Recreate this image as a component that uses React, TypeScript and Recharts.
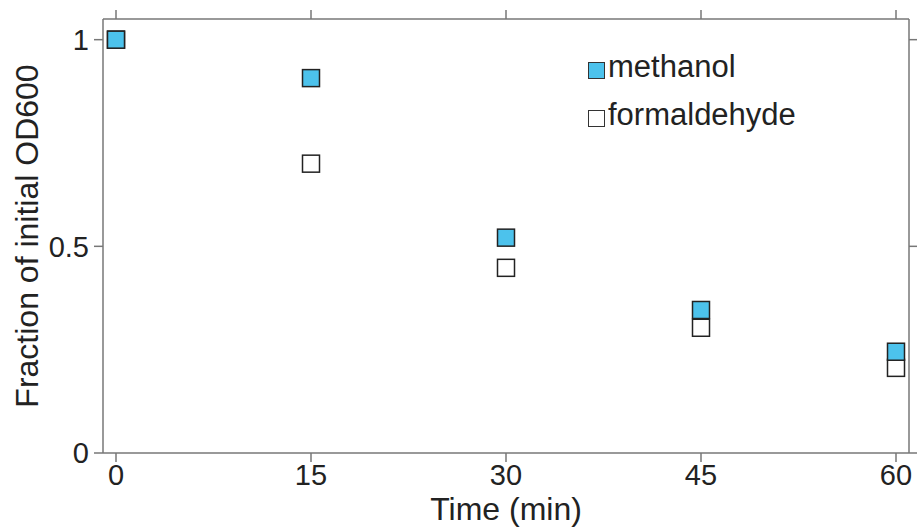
import { ScatterChart, Scatter, XAxis, YAxis } from "recharts"

const times = [0, 15, 30, 45, 60]
const methanol = [1.0, 0.907, 0.521, 0.346, 0.245]
const formaldehyde = [1.0, 0.7, 0.448, 0.303, 0.206]
const xTicks = [0, 15, 30, 45, 60]
const yTicks = [0, 0.5, 1]

const BLUE = "#4cc2ec"
const AXIS = "#777"
const FONT = "'Liberation Sans', Arial, sans-serif"

const methanolData = times.map((t, i) => ({ x: t, y: methanol[i] }))
const formaldehydeData = times.map((t, i) => ({ x: t, y: formaldehyde[i] }))

function Square(props: any) {
  const { cx, cy, fill } = props
  const s = 17
  return (
    <rect
      x={cx - s / 2}
      y={cy - s / 2}
      width={s}
      height={s}
      fill={fill}
      stroke="#222"
      strokeWidth={1.5}
    />
  )
}

// draws nothing: keeps the top/right axes alive and their tick labels empty
function Nothing() {
  return <g />
}

function LegendBox() {
  const items = [
    { label: "methanol", color: BLUE },
    { label: "formaldehyde", color: "#fff" },
  ]
  return (
    <div
      style={{
        position: "absolute",
        left: 588,
        top: 43,
        fontFamily: FONT,
        fontSize: 31,
        color: "#222",
      }}
    >
      {items.map((it) => (
        <div
          key={it.label}
          style={{ display: "flex", alignItems: "center", height: 48 }}
        >
          <span
            style={{
              display: "inline-block",
              width: 15,
              height: 15,
              background: it.color,
              border: "1px solid #333",
              marginRight: 3,
              marginTop: 6,
            }}
          />
          <span>{it.label}</span>
        </div>
      ))}
    </div>
  )
}

function YLabel(props: any) {
  const { viewBox } = props
  const cx = 27
  const cy = viewBox.y + viewBox.height / 2
  return (
    <text
      x={cx}
      y={cy}
      transform={`rotate(-90 ${cx} ${cy})`}
      textAnchor="middle"
      dominantBaseline="central"
      fontFamily={FONT}
      fontSize={32}
      fill="#222"
    >
      Fraction of initial OD600
    </text>
  )
}

export default function App() {
  const tickStyle = { fontSize: 29, fill: "#222", fontFamily: FONT }
  return (
    <div style={{ position: "absolute", left: 0, top: 0, background: "#fff" }}>
      <ScatterChart
        width={918}
        height={529}
        margin={{ top: 0, right: 0, bottom: 0, left: 0 }}
      >
        <XAxis
          xAxisId="b"
          type="number"
          dataKey="x"
          domain={[-1, 61]}
          ticks={xTicks}
          stroke={AXIS}
          strokeWidth={1.5}
          tickSize={9}
          tickMargin={2}
          tick={tickStyle}
          height={76}
          allowDataOverflow
          label={{
            value: "Time (min)",
            position: "insideBottom",
            offset: 9,
            style: { fontSize: 32, fill: "#222", fontFamily: FONT },
          }}
        />
        <XAxis
          xAxisId="t"
          orientation="top"
          type="number"
          dataKey="x"
          domain={[-1, 61]}
          ticks={xTicks}
          stroke={AXIS}
          strokeWidth={1.5}
          tickSize={9}
          tick={<Nothing />}
          height={19}
          allowDataOverflow
        />
        <YAxis
          yAxisId="l"
          type="number"
          dataKey="y"
          domain={[0, 1.05]}
          ticks={yTicks}
          stroke={AXIS}
          strokeWidth={1.5}
          tickSize={9}
          tickMargin={5}
          tick={tickStyle}
          width={103}
          allowDataOverflow
          label={<YLabel />}
        />
        <YAxis
          yAxisId="r"
          orientation="right"
          type="number"
          dataKey="y"
          domain={[0, 1.05]}
          ticks={yTicks}
          stroke={AXIS}
          strokeWidth={1.5}
          tickSize={8}
          tick={<Nothing />}
          width={9}
          allowDataOverflow
        />
        <Scatter
          data={methanolData}
          xAxisId="t"
          yAxisId="r"
          shape={<Nothing />}
          isAnimationActive={false}
        />
        <Scatter
          name="formaldehyde"
          data={formaldehydeData}
          xAxisId="b"
          yAxisId="l"
          fill="#fff"
          shape={<Square />}
          isAnimationActive={false}
        />
        <Scatter
          name="methanol"
          data={methanolData}
          xAxisId="b"
          yAxisId="l"
          fill={BLUE}
          shape={<Square />}
          isAnimationActive={false}
        />
      </ScatterChart>
      <LegendBox />
    </div>
  )
}
